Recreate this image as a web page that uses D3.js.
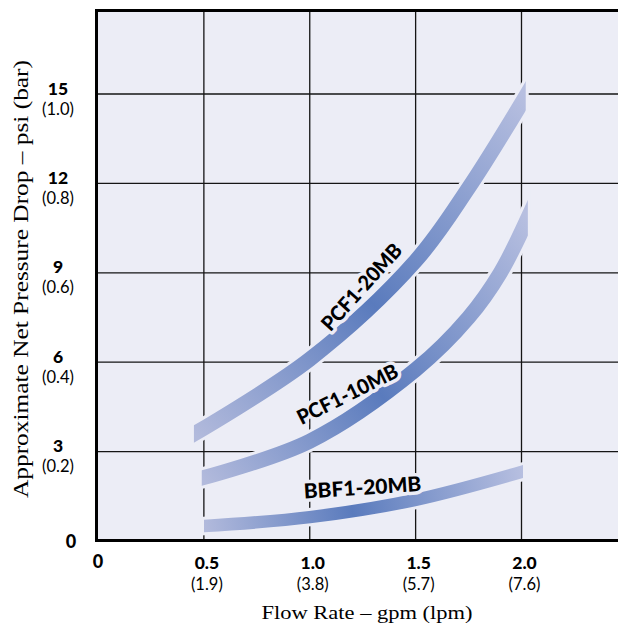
<!DOCTYPE html>
<html>
  <head>
    <meta charset="utf-8">
    <title>Approximate net pressure drop vs flow rate</title>
    <script src="https://cdn.jsdelivr.net/npm/d3@7"></script>
    <style>
      body { margin: 0; background: #fff; }
      svg { display: block; }
    </style>
  </head>
  <body>
    <svg id="chart" width="618" height="627"></svg>

    <script>
      // data: centre line of each band, flow (gpm) vs pressure drop (psi)
      var seriesNames = ["PCF1-20MB", "PCF1-10MB", "BBF1-20MB"];
      var pcf20Gpm = [0.453, 1.0, 1.5, 1.75, 2.02];
      var pcf20Psi = [3.59, 6.1, 9.4, 11.85, 14.93];
      var pcf10Gpm = [0.49, 1.0, 1.5, 1.75, 1.9, 2.03];
      var pcf10Psi = [2.11, 3.35, 5.75, 7.5, 9.0, 10.84];
      var bbf20Gpm = [0.5, 1.0, 1.5, 2.007];
      var bbf20Psi = [0.5, 0.8, 1.38, 2.33];

      // where the band names sit (gpm, psi) and their tilt
      var labelGpm = [1.244, 1.178, 1.249];
      var labelPsi = [8.53, 4.93, 1.8];
      var labelAngle = [-48, -26.5, -3.7];

      // ticks
      var xTicks = [0.5, 1.0, 1.5, 2.0];
      var xTickLpm = ["(1.9)", "(3.8)", "(5.7)", "(7.6)"];
      var yTicks = [3, 6, 9, 12, 15];
      var yTickBar = ["(0.2)", "(0.4)", "(0.6)", "(0.8)", "(1.0)"];

      // elements
      var svg = d3.select("#chart");
      var bg = "#ecedf6";
      var boldFont = "Lato, 'Open Sans', sans-serif";
      var serifFont = "'Liberation Serif', 'Times New Roman', serif";

      var x = d3.scaleLinear().domain([0, 2.5]).range([98, 98 + 2.5 * 211.75]);
      var y = d3.scaleLinear().domain([0, 17.8]).range([541, 541 - 17.8 * 29.8]);

      // plot background
      svg.append("rect")
        .attr("x", x(0)).attr("y", y(17.8))
        .attr("width", 618 - x(0)).attr("height", y(0) - y(17.8))
        .attr("fill", bg);

      // grid
      svg.append("g").selectAll("line")
          .data(xTicks)
        .enter().append("line")
          .attr("x1", function(d) { return x(d); })
          .attr("x2", function(d) { return x(d); })
          .attr("y1", y(17.8)).attr("y2", y(0))
          .attr("stroke", "#151515").attr("stroke-width", 1.3);

      svg.append("g").selectAll("line")
          .data(yTicks)
        .enter().append("line")
          .attr("x1", x(0)).attr("x2", 618)
          .attr("y1", function(d) { return y(d); })
          .attr("y2", function(d) { return y(d); })
          .attr("stroke", "#151515").attr("stroke-width", 1.3);

      // bands
      var series = [
        { name: seriesNames[0], gpm: pcf20Gpm, psi: pcf20Psi, width: 15 },
        { name: seriesNames[1], gpm: pcf10Gpm, psi: pcf10Psi, width: 15 },
        { name: seriesNames[2], gpm: bbf20Gpm, psi: bbf20Psi, width: 12.5 }
      ];

      var line = d3.line().curve(d3.curveCatmullRom.alpha(0.5));
      var defs = svg.append("defs");
      var bands = svg.append("g");

      function bandPath(pts) {
        // stretch the centre line past its ends so the clip can cut it square
        var d = line(pts);
        var tmp = svg.append("path").attr("d", d);
        var node = tmp.node(), len = node.getTotalLength();
        var a = node.getPointAtLength(0), a2 = node.getPointAtLength(1);
        var b = node.getPointAtLength(len), b2 = node.getPointAtLength(len - 1);
        tmp.remove();
        var ext = 40;
        return "M" + (a.x + (a.x - a2.x) * ext) + "," + (a.y + (a.y - a2.y) * ext) +
          "L" + d.slice(1) +
          "L" + (b.x + (b.x - b2.x) * ext) + "," + (b.y + (b.y - b2.y) * ext);
      }

      series.forEach(function(s, i) {
        var pts = s.gpm.map(function(g, j) { return [x(g), y(s.psi[j])]; });
        var first = pts[0], last = pts[pts.length - 1];
        var d = bandPath(pts);

        defs.append("clipPath").attr("id", "cut" + i)
          .append("rect")
            .attr("x", first[0]).attr("y", 0)
            .attr("width", last[0] - first[0]).attr("height", 627);
        defs.append("clipPath").attr("id", "halo" + i)
          .append("rect")
            .attr("x", first[0] - 3).attr("y", 0)
            .attr("width", last[0] - first[0] + 6).attr("height", 627);

        var grad = defs.append("linearGradient").attr("id", "grad" + i)
          .attr("gradientUnits", "userSpaceOnUse")
          .attr("x1", first[0]).attr("y1", first[1])
          .attr("x2", last[0]).attr("y2", last[1]);
        grad.append("stop").attr("offset", 0).attr("stop-color", "#b2badc");
        grad.append("stop").attr("offset", 0.46).attr("stop-color", "#5a7bbd");
        grad.append("stop").attr("offset", 1).attr("stop-color", "#b7bfe0");

        bands.append("path")
          .attr("d", d)
          .attr("clip-path", "url(#halo" + i + ")")
          .attr("fill", "none")
          .attr("stroke", bg)
          .attr("stroke-width", s.width + 6);

        bands.append("path")
          .attr("d", d)
          .attr("clip-path", "url(#cut" + i + ")")
          .attr("fill", "none")
          .attr("stroke", "url(#grad" + i + ")")
          .attr("stroke-width", s.width);
      });

      // band names
      var labelLength = [109, 110, 117.7];
      svg.append("g").selectAll("text")
          .data(seriesNames)
        .enter().append("text")
          .attr("transform", function(d, i) {
            return "translate(" + x(labelGpm[i]) + "," + y(labelPsi[i]) + ") rotate(" + labelAngle[i] + ")";
          })
          .attr("dy", "0.36em")
          .attr("text-anchor", "middle")
          .attr("textLength", function(d, i) { return labelLength[i]; })
          .attr("lengthAdjust", "spacingAndGlyphs")
          .attr("font-family", boldFont)
          .attr("font-weight", 900)
          .attr("font-size", 20.5)
          .attr("fill", "#000")
          .attr("stroke", bg)
          .attr("stroke-width", 7)
          .attr("stroke-linejoin", "round")
          .attr("paint-order", "stroke")
          .text(function(d) { return d; });

      // frame: top, left and the x axis line
      var frame = svg.append("g").attr("stroke", "#000").attr("stroke-width", 3);
      frame.append("line").attr("x1", x(0) - 3).attr("x2", 618)
        .attr("y1", y(17.8)).attr("y2", y(17.8));
      frame.append("line").attr("x1", x(0) - 1.5).attr("x2", x(0) - 1.5)
        .attr("y1", y(17.8) - 1.5).attr("y2", y(0) + 1);
      frame.append("line").attr("x1", x(0) - 3).attr("x2", 618)
        .attr("y1", y(0) - 0.5).attr("y2", y(0) - 0.5);

      // y tick labels: psi in bold, bar below
      var yLab = svg.append("g").attr("text-anchor", "middle");
      yLab.selectAll(".psi")
          .data(yTicks)
        .enter().append("text")
          .attr("x", 58)
          .attr("y", function(d) { return y(d) + 0.5; })
          .attr("font-family", boldFont).attr("font-weight", 900).attr("font-size", 17.5)
          .text(function(d) { return d; });
      yLab.selectAll(".bar")
          .data(yTickBar)
        .enter().append("text")
          .attr("x", 58)
          .attr("y", function(d, i) { return y(yTicks[i]) + 20.5; })
          .attr("font-family", boldFont).attr("font-size", 16.5)
          .text(function(d) { return d; });
      yLab.append("text")
        .attr("x", 71).attr("y", y(0) + 7)
        .attr("font-family", boldFont).attr("font-weight", 900).attr("font-size", 18)
        .text("0");

      // x tick labels: gpm in bold, lpm below
      var xLab = svg.append("g").attr("text-anchor", "middle");
      xLab.selectAll(".gpm")
          .data(xTicks)
        .enter().append("text")
          .attr("x", function(d) { return x(d) + 3; })
          .attr("y", 569)
          .attr("font-family", boldFont).attr("font-weight", 900).attr("font-size", 17.5)
          .text(function(d) { return d.toFixed(1); });
      xLab.selectAll(".lpm")
          .data(xTickLpm)
        .enter().append("text")
          .attr("x", function(d, i) { return x(xTicks[i]) + 3; })
          .attr("y", 589.5)
          .attr("font-family", boldFont).attr("font-size", 16.5)
          .text(function(d) { return d; });
      xLab.append("text")
        .attr("x", x(0)).attr("y", 568)
        .attr("font-family", boldFont).attr("font-weight", 900).attr("font-size", 18)
        .text("0");

      // axis titles
      svg.append("text")
        .attr("x", 367).attr("y", 619)
        .attr("text-anchor", "middle")
        .attr("font-family", serifFont).attr("font-size", 18)
        .attr("textLength", 211).attr("lengthAdjust", "spacingAndGlyphs")
        .text("Flow Rate \u2013 gpm (lpm)");

      svg.append("text")
        .attr("transform", "translate(28,279) rotate(-90)")
        .attr("text-anchor", "middle")
        .attr("font-family", serifFont).attr("font-size", 20.5)
        .attr("textLength", 438).attr("lengthAdjust", "spacingAndGlyphs")
        .text("Approximate Net Pressure Drop \u2013 psi (bar)");
    </script>
  </body>
</html>
